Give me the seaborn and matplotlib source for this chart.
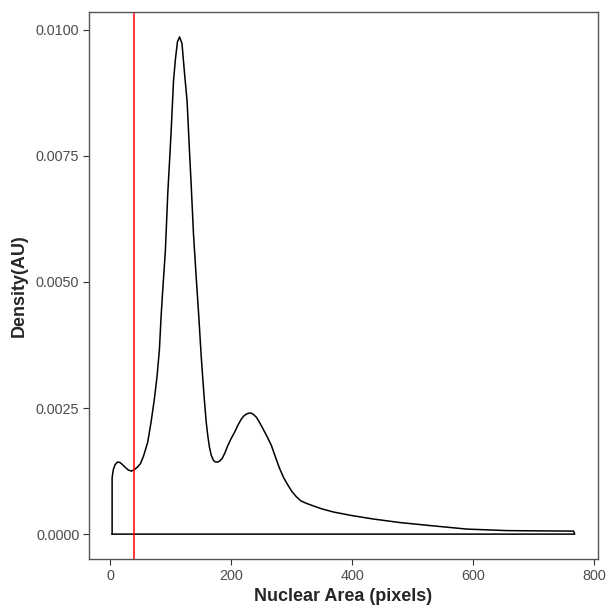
import matplotlib
matplotlib.use("Agg")
import matplotlib.pyplot as plt
import seaborn as sns
import pandas as pd

# density curve (nuclear area in pixels vs density)
area = [3, 3, 5, 8, 12, 16, 20, 25, 30, 35, 40, 45, 50, 55, 61.8, 67.4, 72.9,
        77.4, 81.2, 84, 86.7, 91.1, 95, 98.9, 101, 104.5, 107.5, 111, 114.5,
        118.5, 122.5, 127, 130.9, 133.7, 137.5, 142, 146.3, 150.3, 153, 155.8,
        158.6, 161.2, 164, 167, 170.7, 174, 177.8, 181, 185, 189.5, 194.4,
        200, 205.5, 211, 216.6, 220.5, 224.9, 229, 233.1, 237, 241.4, 246.5,
        252.4, 259, 266.3, 273, 280, 287, 293.8, 300, 307.7, 315, 324.3, 338,
        350, 368.5, 398.5, 434.5, 478.5, 528.5, 589.5, 655.5, 700, 766, 768]
density = [0, 0.00112, 0.00128, 0.00138, 0.00143, 0.00142, 0.00138, 0.00132,
           0.00127, 0.00125, 0.00128, 0.00133, 0.0014, 0.00155, 0.00182,
           0.00222, 0.00268, 0.00314, 0.00366, 0.00432, 0.00484, 0.00563,
           0.00675, 0.0076, 0.00809, 0.00898, 0.0094, 0.00976, 0.00986,
           0.00973, 0.00917, 0.00858, 0.0076, 0.00694, 0.00596, 0.0051,
           0.00432, 0.00353, 0.00307, 0.00262, 0.00222, 0.00195, 0.00172,
           0.00156, 0.00146, 0.00143, 0.00143, 0.00145, 0.0015, 0.00161,
           0.00176, 0.0019, 0.00202, 0.00216, 0.00228, 0.00234, 0.00238,
           0.0024, 0.0024, 0.00237, 0.00232, 0.00222, 0.00209, 0.00194,
           0.00176, 0.00153, 0.0013, 0.00111, 0.00097, 0.00085, 0.00074,
           0.00066, 0.00061, 0.00055, 0.0005, 0.00044, 0.00037, 0.0003,
           0.00023, 0.00017, 0.0001, 0.00007, 0.000065, 0.00006, 0]
cutoff = 40
xticks = [0, 200, 400, 600, 800]
yticks = [0.0, 0.0025, 0.005, 0.0075, 0.01]

sns.set_theme(style="white")
plt.rcParams['font.family'] = ['Liberation Sans', 'DejaVu Sans']

# close the polygon along the baseline like geom_density
poly = pd.DataFrame({"x": area + [area[0]], "y": density + [0]})

fig = plt.figure(figsize=(6.07, 6.07), dpi=100)
ax = fig.add_axes([0.1466, 0.0791, 0.8384, 0.9011])
sns.lineplot(data=poly, x="x", y="y", sort=False, estimator=None,
             color="black", linewidth=1.1, ax=ax)
ax.axvline(cutoff, color="red", linewidth=1.1)

xr = max(area) - min(area)
ax.set_xlim(min(area) - 0.05 * xr, max(area) + 0.05 * xr)
yr = max(density)
ax.set_ylim(-0.05 * yr, yr * 1.05)
ax.set_xticks(xticks)
ax.set_yticks(yticks)
ax.set_yticklabels([f"{v:.4f}" for v in yticks])
ax.tick_params(axis="both", length=4, width=0.8, color="#333333",
               labelsize=10.4, labelcolor="#4d4d4d", direction="out",
               bottom=True, left=True, pad=3)
for s in ax.spines.values():
    s.set_color("#555555")
    s.set_linewidth(1.0)
ax.set_xlabel("Nuclear Area (pixels)", fontsize=13, fontweight="bold", labelpad=4)
ax.set_ylabel("Density(AU)", fontsize=13, fontweight="bold", labelpad=6)
ax.grid(False)

fig.savefig("out.png", dpi=100)
